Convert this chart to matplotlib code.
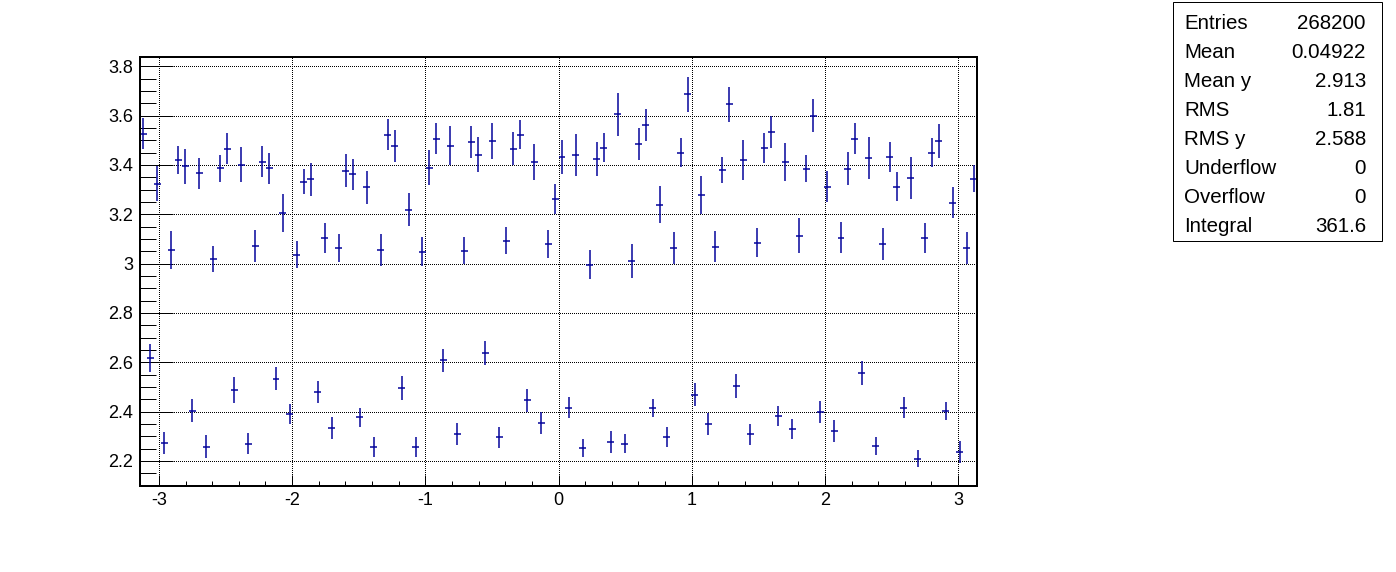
# -*- coding: utf-8 -*-
"""Profile of y versus phi, drawn in ROOT style with a stats box."""

import matplotlib

matplotlib.use("Agg")
import matplotlib.pyplot as plt
import numpy as np
from matplotlib.patches import Rectangle
from matplotlib.ticker import FormatStrFormatter, MultipleLocator

# 120 bins from -pi to pi, one profile value and error per bin
n_bins = 120
bin_values = [
    3.527, 2.618, 3.324, 2.273, 3.056, 3.421, 3.394, 2.403, 3.366, 2.258,
    3.020, 3.386, 3.466, 2.488, 3.401, 2.269, 3.072, 3.413, 3.386, 2.533,
    3.206, 2.391, 3.036, 3.333, 3.342, 2.480, 3.105, 2.334, 3.064, 3.377,
    3.362, 2.376, 3.309, 2.257, 3.056, 3.523, 3.478, 2.496, 3.218, 2.257,
    3.048, 3.389, 3.507, 2.608, 3.478, 2.310, 3.052, 3.494, 3.442, 2.638,
    3.498, 2.295, 3.093, 3.466, 3.523, 2.445, 3.413, 2.354, 3.080, 3.263,
    3.433, 2.415, 3.442, 2.253, 2.995, 3.425, 3.470, 2.277, 3.605, 2.269,
    3.011, 3.486, 3.563, 2.415, 3.239, 2.297, 3.064, 3.450, 3.686, 2.468,
    3.279, 2.350, 3.068, 3.381, 3.646, 2.504, 3.421, 2.307, 3.085, 3.470,
    3.535, 2.383, 3.413, 2.330, 3.113, 3.385, 3.600, 2.399, 3.312, 2.322,
    3.105, 3.385, 3.507, 2.557, 3.429, 2.261, 3.080, 3.433, 3.312, 2.415,
    3.348, 2.209, 3.105, 3.450, 3.498, 2.403, 3.247, 2.237, 3.064, 3.344,
]
bin_errors = [
    0.062, 0.056, 0.070, 0.046, 0.078, 0.058, 0.072, 0.046, 0.062, 0.047,
    0.052, 0.054, 0.064, 0.052, 0.072, 0.043, 0.064, 0.062, 0.064, 0.047,
    0.076, 0.041, 0.055, 0.051, 0.068, 0.044, 0.060, 0.044, 0.056, 0.068,
    0.062, 0.039, 0.068, 0.041, 0.065, 0.064, 0.064, 0.049, 0.067, 0.041,
    0.058, 0.072, 0.063, 0.046, 0.079, 0.044, 0.055, 0.064, 0.072, 0.049,
    0.074, 0.041, 0.054, 0.066, 0.058, 0.045, 0.072, 0.045, 0.057, 0.061,
    0.068, 0.042, 0.085, 0.036, 0.059, 0.068, 0.058, 0.046, 0.089, 0.039,
    0.068, 0.064, 0.066, 0.037, 0.076, 0.042, 0.066, 0.058, 0.070, 0.047,
    0.077, 0.045, 0.063, 0.053, 0.072, 0.049, 0.082, 0.041, 0.058, 0.060,
    0.065, 0.041, 0.076, 0.041, 0.070, 0.055, 0.066, 0.044, 0.064, 0.044,
    0.062, 0.067, 0.062, 0.049, 0.086, 0.036, 0.066, 0.060, 0.058, 0.043,
    0.084, 0.033, 0.060, 0.058, 0.070, 0.037, 0.064, 0.044, 0.064, 0.055,
]

stat_names = ["Entries", "Mean", "Mean y", "RMS", "RMS y", "Underflow", "Overflow", "Integral"]
stat_values = ["268200", "0.04922", "2.913", "1.81", "2.588", "0", "0", "361.6"]

W, H = 1396, 572
LINE = "#000099"


def px(n):
    # pixels -> points at dpi 100
    return n * 0.72


def main():
    plt.rcParams["font.family"] = ["Liberation Sans", "DejaVu Sans"]
    plt.rcParams["axes.unicode_minus"] = False

    fig = plt.figure(figsize=(W / 100, H / 100), dpi=100)
    ax = fig.add_axes([140 / W, 1 - 486 / H, (977 - 140) / W, (486 - 57) / H])

    edges = np.linspace(-np.pi, np.pi, n_bins + 1)
    centers = 0.5 * (edges[:-1] + edges[1:])
    half = 0.5 * np.diff(edges)

    ax.errorbar(centers, bin_values, xerr=half, yerr=bin_errors, fmt="none",
                ecolor=LINE, elinewidth=px(1.5), capsize=0)

    ax.set_xlim(-np.pi, np.pi)
    ax.set_ylim(2.098, 3.838)

    ax.xaxis.set_major_locator(MultipleLocator(1))
    ax.xaxis.set_minor_locator(MultipleLocator(0.2))
    ax.yaxis.set_major_locator(MultipleLocator(0.2))
    ax.yaxis.set_minor_locator(MultipleLocator(0.05))
    ax.yaxis.set_major_formatter(FormatStrFormatter("%g"))
    ax.xaxis.set_major_formatter(FormatStrFormatter("%g"))

    ax.tick_params(axis="both", which="both", direction="in", top=False, right=False,
                   width=px(1), color="black", labelsize=13)
    ax.tick_params(axis="y", which="major", length=px(33), pad=px(7))
    ax.tick_params(axis="y", which="minor", length=px(16))
    ax.tick_params(axis="x", which="major", length=px(11), pad=px(6))
    ax.tick_params(axis="x", which="minor", length=px(5))

    ax.grid(True, which="major", color="black", linestyle=(0, (1, 2)), linewidth=px(1))
    for line in ax.get_xgridlines() + ax.get_ygridlines():
        line.set_antialiased(False)
    ax.set_axisbelow(True)
    for spine in ax.spines.values():
        spine.set_linewidth(px(2))

    # stats box
    fig.patches.append(Rectangle((1173 / W, 1 - 241 / H), (1382 - 1173) / W, 239 / H,
                                 transform=fig.transFigure, facecolor="white",
                                 edgecolor="black", linewidth=px(1)))
    for i, (name, value) in enumerate(zip(stat_names, stat_values)):
        y = 1 - (29.3 + i * 28.9) / H
        fig.text(1184 / W, y, name, ha="left", va="baseline", fontsize=14.8)
        fig.text(1366 / W, y, value, ha="right", va="baseline", fontsize=14.8)

    fig.savefig("out.png", dpi=100)
    plt.close(fig)


if __name__ == "__main__":
    main()
